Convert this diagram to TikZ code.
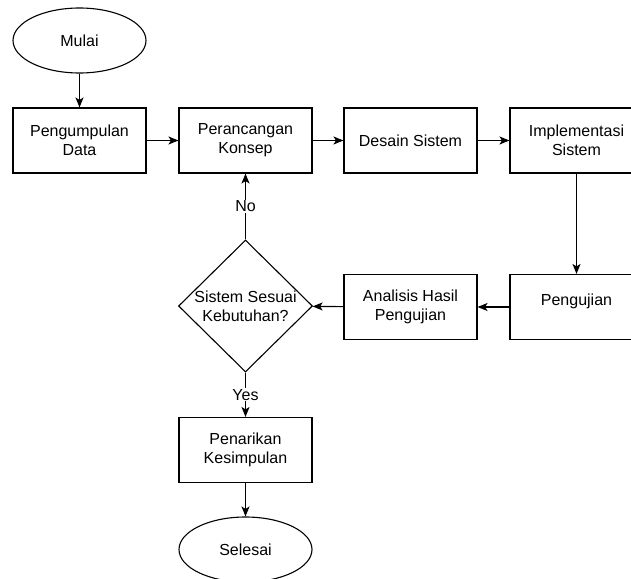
\documentclass[tikz,border=0pt]{standalone}
\usepackage{fontspec}
\setmainfont{Liberation Sans}
\usepackage{tikz}
\usetikzlibrary{shapes.geometric,arrows.meta}

\begin{document}
\begin{tikzpicture}[
      x=1pt, y=-1pt,
      every node/.style={font=\fontsize{16}{19}\selectfont, align=center},
      proses/.style={rectangle, draw, line width=1.1pt, minimum width=133pt, minimum height=65pt, inner sep=2pt},
      terminal/.style={ellipse, draw, line width=1.1pt, minimum width=133pt, minimum height=65pt, inner sep=0pt},
      keputusan/.style={diamond, draw, line width=1.1pt, aspect=1, inner sep=-1pt, minimum width=134pt, minimum height=132pt},
      panah/.style={draw, line width=1.1pt, -{Stealth[length=10pt,width=8pt,inset=2.5pt]}},
      labelpanah/.style={fill=white, inner sep=1pt}
    ]
    \clip (0,0) rectangle (631,578);
    \node[terminal]  (mulai)    at (79.5,40.5)  {Mulai};
    \node[proses]    (kumpul)   at (79.5,140.5) {Pengumpulan\\Data};
    \node[proses]    (rancang)  at (245.5,140.5) {Perancangan\\Konsep};
    \node[proses]    (desain)   at (410.5,140.5) {Desain Sistem};
    \node[proses]    (impl)     at (576.5,140.5) {Implementasi\\Sistem};
    \node[proses]    (uji)      at (576.5,307)   {Pengujian\\[-4pt]\mbox{}};
    \node[proses]    (analisis) at (410.5,307)   {Analisis Hasil\\Pengujian};
    \node[keputusan] (cek)      at (245.5,306)   {Sistem Sesuai\\Kebutuhan?};
    \node[proses]    (simpul)   at (245.5,450)   {Penarikan\\Kesimpulan};
    \node[terminal]  (selesai)  at (245.5,549.5) {Selesai};

    \draw[panah] (mulai) -- (kumpul);
    \draw[panah] (kumpul) -- (rancang);
    \draw[panah] (rancang) -- (desain);
    \draw[panah] (desain) -- (impl);
    \draw[panah] (impl) -- (uji);
    \draw[panah] (uji) -- (analisis);
    \draw[panah] (analisis) -- (cek);
    \draw[panah] (simpul) -- (selesai);
    % Label keputusan
    \draw[panah] (cek) -- node[labelpanah] {No} (rancang);
    \draw[panah] (cek) -- node[labelpanah] {Yes} (simpul);
  \end{tikzpicture}
\end{document}
